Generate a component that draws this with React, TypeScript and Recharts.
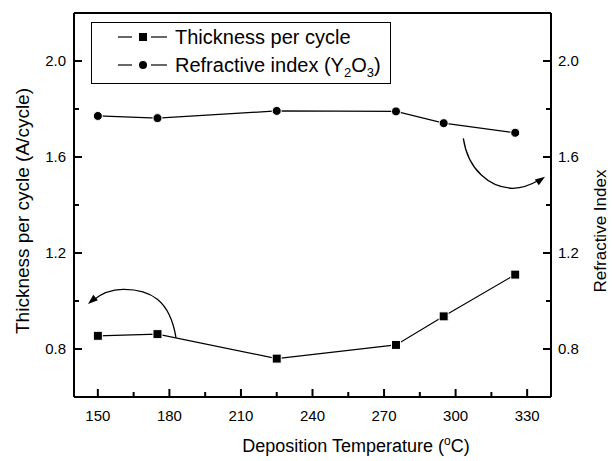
import React from 'react';
import { ComposedChart, Line, XAxis, YAxis, ReferenceLine, ReferenceDot, Legend } from 'recharts';

const temperatures = [150, 175, 225, 275, 295, 325];
const thicknessPerCycle = [0.855, 0.862, 0.76, 0.817, 0.936, 1.11];
const refractiveIndex = [1.771, 1.762, 1.792, 1.79, 1.741, 1.701];
const xMajor = [150, 180, 210, 240, 270, 300, 330];
const xMinor = [165, 195, 225, 255, 285, 315];
const yMajor = [0.8, 1.2, 1.6, 2.0];
const yMinor = [1.0, 1.4, 1.8];

const data = temperatures.map((t, i) => ({ t, thickness: thicknessPerCycle[i], ri: refractiveIndex[i] }));

const FONT = '"Liberation Sans", Arial, Helvetica, sans-serif';
const X_DOMAIN: [number, number] = [140, 340];
const Y_DOMAIN: [number, number] = [0.6, 2.2];
const MAJOR_LEN = 8;
const MINOR_LEN = 5;

const LeftLabel = (props: any) => (
  <text x={Number(props.x)} y={Number(props.y)} dy="0.36em" textAnchor="end" fontSize={15} fontFamily={FONT} fill="#000">
    {Number(props.payload.value).toFixed(1)}
  </text>
);

const RightLabel = (props: any) => (
  <text x={Number(props.x)} y={Number(props.y)} dy="0.36em" textAnchor="start" fontSize={15} fontFamily={FONT} fill="#000">
    {Number(props.payload.value).toFixed(1)}
  </text>
);

const BottomLabel = (props: any) => (
  <text x={Number(props.x)} y={Number(props.y)} dy="0.72em" textAnchor="middle" fontSize={15} fontFamily={FONT} fill="#000">
    {String(props.payload.value)}
  </text>
);

const tickShape = (dx: number, dy: number) => (p: any) => {
  const cx = Number(p.cx);
  const cy = Number(p.cy);
  return (
    <g>
      <path d={`M${cx},${cy}L${cx + dx},${cy + dy}`} stroke="#000" strokeWidth={2} fill="none" />
    </g>
  );
};

const SquareDot = (p: any) => (
  <rect key={`s${p.index}`} x={p.cx - 4.5} y={p.cy - 4.5} width={9} height={9} fill="#000" stroke="#fff" strokeWidth={1} />
);
const CircleDot = (p: any) => (
  <circle key={`c${p.index}`} cx={p.cx} cy={p.cy} r={4.5} fill="#000" stroke="#fff" strokeWidth={1} />
);

const arrowHead = (tx: number, ty: number, fx: number, fy: number) => {
  const dx = tx - fx;
  const dy = ty - fy;
  const L = Math.sqrt(dx * dx + dy * dy);
  const ux = dx / L;
  const uy = dy / L;
  const len = 10;
  const w = 3.5;
  const bx = tx - ux * len;
  const by = ty - uy * len;
  return `M${tx},${ty} L${bx - uy * w},${by + ux * w} L${bx + uy * w},${by - ux * w} Z`;
};

const LeftArrow = (p: any) => {
  const cx = Number(p.cx);
  const cy = Number(p.cy);
  const P = (dx: number, dy: number) => `${cx + dx},${cy + dy}`;
  const d = `M${P(18.5, -11.3)} C${P(12.5, -49)} ${P(-7.5, -60)} ${P(-34.5, -59.7)} C${P(-49.5, -59.5)} ${P(-58, -54)} ${P(-64, -49)}`;
  return (
    <g>
      <path d={d} fill="none" stroke="#000" strokeWidth={1.3} />
      <path d={arrowHead(cx - 69.5, cy - 45, cx - 62.5, cy - 51)} fill="#000" />
    </g>
  );
};

const RightArrow = (p: any) => {
  const cx = Number(p.cx);
  const cy = Number(p.cy);
  const P = (dx: number, dy: number) => `${cx + dx},${cy + dy}`;
  const d = `M${P(-51.9, -18.7)} C${P(-47.2, 13)} ${P(-25.2, 31)} ${P(-2.2, 31.3)} C${P(9.8, 31)} ${P(17, 27)} ${P(23, 23.5)}`;
  return (
    <g>
      <path d={d} fill="none" stroke="#000" strokeWidth={1.3} />
      <path d={arrowHead(cx + 29.8, cy + 19.7, cx + 20.8, cy + 26)} fill="#000" />
    </g>
  );
};

const LegendBox = () => (
  <svg width={300} height={62} style={{ display: 'block' }}>
    <rect x={0.5} y={0.5} width={299} height={61} fill="#fff" stroke="#000" strokeWidth={1} />
    <line x1={27} x2={41} y1={15} y2={15} stroke="#000" strokeWidth={1.2} />
    <line x1={60} x2={76} y1={15} y2={15} stroke="#000" strokeWidth={1.2} />
    <rect x={48} y={11} width={8} height={8} fill="#000" />
    <text x={84} y={22} fontSize={20} fontFamily={FONT} fill="#000">Thickness per cycle</text>
    <line x1={27} x2={41} y1={43} y2={43} stroke="#000" strokeWidth={1.2} />
    <line x1={60} x2={76} y1={43} y2={43} stroke="#000" strokeWidth={1.2} />
    <circle cx={52} cy={43} r={4} fill="#000" />
    <text x={84} y={50} fontSize={20} fontFamily={FONT} fill="#000">
      Refractive index (Y<tspan dy={5} fontSize={13}>2</tspan>
      <tspan dy={-5}>O</tspan>
      <tspan dy={5} fontSize={13}>3</tspan>
      <tspan dy={-5}>)</tspan>
    </text>
  </svg>
);

const leftTitle = () => (
  <text transform="translate(29,211) rotate(-90)" textAnchor="middle" fontSize={19} fontFamily={FONT} fill="#000">
    Thickness per cycle (A/cycle)
  </text>
);

const rightTitle = () => (
  <text transform="translate(606,231) rotate(-90)" textAnchor="middle" fontSize={17} fontFamily={FONT} fill="#000">
    Refractive Index
  </text>
);

const bottomTitle = () => (
  <text x={356} y={452} textAnchor="middle" fontSize={18} fontFamily={FONT} fill="#000">
    Deposition Temperature (<tspan dy={-7} fontSize={12}>o</tspan>
    <tspan dy={7}>C)</tspan>
  </text>
);

export default function App() {
  const yTickMarks = [
    ...yMajor.map((v) => ({ v, len: MAJOR_LEN })),
    ...yMinor.map((v) => ({ v, len: MINOR_LEN })),
  ];
  const xTickMarks = [
    ...xMajor.map((v) => ({ v, len: MAJOR_LEN })),
    ...xMinor.map((v) => ({ v, len: MINOR_LEN })),
  ];
  return (
    <div style={{ position: 'absolute', left: 0, top: 0, width: 613, height: 461, background: '#fff' }}>
      <ComposedChart width={613} height={461} data={data} margin={{ top: 13, right: 12, bottom: 24, left: 14 }}>
        <XAxis
          dataKey="t"
          type="number"
          domain={X_DOMAIN}
          ticks={xMajor}
          interval={0}
          tickSize={0}
          tickMargin={13}
          tickLine={false}
          tick={BottomLabel}
          height={40}
          axisLine={{ stroke: '#000', strokeWidth: 2 }}
          label={bottomTitle}
        />
        <YAxis
          yAxisId="left"
          type="number"
          domain={Y_DOMAIN}
          ticks={yMajor}
          interval={0}
          tickSize={0}
          tickMargin={8}
          tickLine={false}
          tick={LeftLabel}
          width={60}
          axisLine={{ stroke: '#000', strokeWidth: 2 }}
          label={leftTitle}
        />
        <YAxis
          yAxisId="right"
          orientation="right"
          type="number"
          domain={Y_DOMAIN}
          ticks={yMajor}
          interval={0}
          tickSize={0}
          tickMargin={7}
          tickLine={false}
          tick={RightLabel}
          width={50}
          axisLine={{ stroke: '#000', strokeWidth: 2 }}
          label={rightTitle}
        />
        <ReferenceLine yAxisId="left" y={2.2} stroke="#000" strokeWidth={2} />
        {yTickMarks.map((m) => (
          <ReferenceDot
            key={`lt${m.v}`}
            yAxisId="left"
            x={X_DOMAIN[0]}
            y={m.v}
            r={0}
            ifOverflow="visible"
            shape={tickShape(m.len, 0)}
          />
        ))}
        {yTickMarks.map((m) => (
          <ReferenceDot
            key={`rt${m.v}`}
            yAxisId="right"
            x={X_DOMAIN[1]}
            y={m.v}
            r={0}
            ifOverflow="visible"
            shape={tickShape(-m.len, 0)}
          />
        ))}
        {xTickMarks.map((m) => (
          <ReferenceDot
            key={`bt${m.v}`}
            yAxisId="left"
            x={m.v}
            y={Y_DOMAIN[0]}
            r={0}
            ifOverflow="visible"
            shape={tickShape(0, -m.len)}
          />
        ))}
        <Line
          yAxisId="left"
          dataKey="thickness"
          stroke="#000"
          strokeWidth={1.2}
          dot={SquareDot}
          activeDot={false}
          isAnimationActive={false}
        />
        <Line
          yAxisId="right"
          dataKey="ri"
          stroke="#000"
          strokeWidth={1.2}
          dot={CircleDot}
          activeDot={false}
          isAnimationActive={false}
        />
        <ReferenceDot yAxisId="left" x={175} y={0.8} r={0} ifOverflow="visible" shape={LeftArrow} />
        <ReferenceDot yAxisId="left" x={325} y={1.6} r={0} ifOverflow="visible" shape={RightArrow} />
        <Legend
          layout="vertical"
          align="center"
          verticalAlign="middle"
          content={LegendBox}
          wrapperStyle={{ position: 'absolute', left: 91, top: 22, width: 300, height: 62 }}
        />
      </ComposedChart>
    </div>
  );
}
